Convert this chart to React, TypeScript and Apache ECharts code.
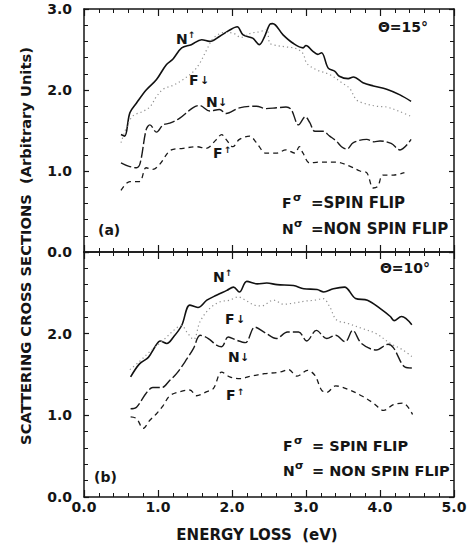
import React, { useEffect, useRef } from "react";
import * as echarts from "echarts";

// ---- data (energy loss eV, cross section arbitrary units) ----
const xTicks = [0, 1, 2, 3, 4, 5];

// panel (a) theta = 15 deg
const aNUp = [[0.50,1.45],[0.55,1.43],[0.62,1.72],[0.71,1.84],[0.84,2.00],[0.98,2.13],[1.11,2.31],[1.20,2.38],[1.32,2.52],[1.45,2.56],[1.59,2.62],[1.70,2.60],[1.83,2.66],[1.97,2.74],[2.07,2.78],[2.15,2.68],[2.28,2.64],[2.37,2.56],[2.44,2.66],[2.51,2.81],[2.55,2.82],[2.69,2.68],[2.82,2.58],[2.96,2.52],[3.00,2.55],[3.09,2.48],[3.16,2.44],[3.21,2.46],[3.30,2.27],[3.39,2.23],[3.45,2.17],[3.57,2.14],[3.64,2.16],[3.77,2.09],[3.91,2.05],[4.09,2.01],[4.27,1.94],[4.42,1.86]];
const aFDown = [[0.50,1.35],[0.58,1.55],[0.66,1.68],[0.78,1.73],[0.89,1.79],[0.98,1.92],[1.07,2.01],[1.21,2.06],[1.34,2.13],[1.48,2.23],[1.57,2.34],[1.66,2.50],[1.75,2.64],[1.90,2.71],[2.02,2.70],[2.12,2.65],[2.25,2.70],[2.38,2.72],[2.47,2.75],[2.51,2.58],[2.60,2.55],[2.75,2.53],[2.87,2.51],[2.96,2.45],[3.01,2.33],[3.14,2.25],[3.32,2.19],[3.50,2.08],[3.59,2.02],[3.68,1.88],[3.77,1.84],[3.95,1.80],[4.09,1.79],[4.25,1.74],[4.43,1.67]];
const aNDown = [[0.50,1.10],[0.60,1.06],[0.71,1.04],[0.76,1.10],[0.84,1.51],[0.89,1.57],[0.98,1.48],[1.07,1.57],[1.16,1.59],[1.29,1.65],[1.47,1.78],[1.56,1.81],[1.70,1.74],[1.83,1.76],[1.92,1.71],[2.10,1.78],[2.33,1.80],[2.46,1.77],[2.60,1.78],[2.73,1.79],[2.80,1.76],[2.90,1.57],[2.99,1.67],[3.05,1.60],[3.12,1.49],[3.23,1.49],[3.32,1.43],[3.41,1.37],[3.48,1.30],[3.55,1.27],[3.64,1.35],[3.82,1.39],[3.92,1.36],[4.00,1.37],[4.15,1.34],[4.27,1.26],[4.42,1.39]];
const aFUp = [[0.50,0.76],[0.62,0.87],[0.75,0.87],[0.84,1.04],[0.93,1.02],[1.02,1.08],[1.18,1.26],[1.34,1.28],[1.52,1.30],[1.65,1.28],[1.79,1.39],[1.86,1.45],[1.92,1.39],[2.01,1.30],[2.10,1.39],[2.24,1.43],[2.33,1.35],[2.46,1.22],[2.60,1.22],[2.73,1.26],[2.85,1.22],[2.91,1.30],[2.96,1.22],[3.05,1.10],[3.18,1.11],[3.41,1.11],[3.59,1.06],[3.73,1.00],[3.82,0.98],[3.91,0.79],[3.97,0.81],[4.04,0.95],[4.18,0.95],[4.33,0.98]];

// panel (b) theta = 10 deg
const bNUp = [[0.63,1.47],[0.75,1.63],[0.87,1.71],[0.96,1.84],[1.03,1.91],[1.12,1.88],[1.21,1.96],[1.32,2.10],[1.43,2.35],[1.54,2.32],[1.66,2.41],[1.79,2.47],[1.93,2.53],[2.02,2.57],[2.10,2.51],[2.20,2.64],[2.34,2.61],[2.47,2.62],[2.61,2.60],[2.83,2.59],[2.97,2.55],[3.15,2.54],[3.24,2.51],[3.37,2.55],[3.52,2.57],[3.67,2.43],[3.83,2.41],[4.00,2.31],[4.14,2.21],[4.19,2.16],[4.29,2.21],[4.43,2.11]];
const bFDown = [[0.62,1.56],[0.75,1.66],[0.89,1.78],[1.07,1.92],[1.25,2.07],[1.32,2.10],[1.39,2.02],[1.48,1.93],[1.57,2.15],[1.70,2.31],[1.84,2.39],[1.97,2.41],[2.08,2.45],[2.20,2.40],[2.30,2.35],[2.40,2.34],[2.56,2.41],[2.70,2.36],[2.87,2.38],[3.00,2.40],[3.12,2.41],[3.23,2.43],[3.32,2.33],[3.41,2.17],[3.55,2.13],[3.77,2.06],[3.95,2.00],[4.14,1.88],[4.31,1.80],[4.43,1.72]];
const bNDown = [[0.63,1.08],[0.71,1.10],[0.84,1.27],[0.93,1.34],[1.05,1.34],[1.16,1.43],[1.25,1.51],[1.39,1.69],[1.48,1.82],[1.57,1.98],[1.68,1.94],[1.79,1.86],[1.86,1.84],[1.95,1.96],[2.06,1.92],[2.18,1.89],[2.31,2.08],[2.45,2.01],[2.60,1.94],[2.75,2.02],[2.90,2.02],[3.01,1.91],[3.14,2.04],[3.28,1.94],[3.40,1.98],[3.53,1.90],[3.63,2.04],[3.75,1.88],[3.95,1.80],[4.11,1.87],[4.18,1.83],[4.34,1.59],[4.43,1.58]];
const bFUp = [[0.63,0.98],[0.71,0.96],[0.80,0.84],[0.89,0.94],[0.98,1.02],[1.07,1.12],[1.16,1.24],[1.30,1.29],[1.43,1.31],[1.52,1.24],[1.66,1.29],[1.75,1.33],[1.86,1.53],[1.97,1.47],[2.11,1.45],[2.26,1.48],[2.44,1.51],[2.65,1.53],[2.76,1.56],[2.88,1.48],[3.02,1.55],[3.12,1.49],[3.21,1.31],[3.28,1.28],[3.40,1.36],[3.59,1.31],[3.77,1.23],[3.91,1.15],[4.05,1.06],[4.18,1.13],[4.31,1.15],[4.44,1.01]];

const FONT = '"DejaVu Sans", "Liberation Sans", sans-serif';
const INK = "#151515";

function txt(x: number, y: number, text: string, size = 14, align = "left", extra: any = {}) {
  return {
    type: "text",
    x,
    y,
    silent: true,
    ...extra,
    style: {
      text,
      fontFamily: FONT,
      fontWeight: "bold",
      fontSize: size,
      fill: INK,
      align,
      verticalAlign: "middle",
      textAlign: align,
      textVerticalAlign: "middle",
    },
  };
}

function supLabel(x: number, y: number, main: string, sup: string, supDx: number, supDy: number, supSize = 10) {
  return {
    type: "group",
    children: [txt(x, y, main, 14), txt(x + supDx, y + supDy, sup, supSize)],
  };
}

function legendRows(x: number, y1: number, y2: number, eqSpace: string, size: number) {
  return [
    supLabel(x, y1, "F", "σ", 11, -6, 11),
    txt(x + 29, y1, "=" + eqSpace + "SPIN FLIP", size),
    supLabel(x, y2, "N", "σ", 12, -6, 11),
    txt(x + 29, y2, "=" + eqSpace + "NON SPIN FLIP", size),
  ];
}

const LEFT = 84;
const WIDTH = 370;
const TOP_A = 9;
const H_A = 243;
const TOP_B = 252;
const H_B = 245;

function xAxisCfg(grid: number, position: string, showLabel: boolean) {
  return {
    type: "value",
    gridIndex: grid,
    position,
    min: xTicks[0],
    max: xTicks[xTicks.length - 1],
    interval: 1,
    axisLine: { show: true, onZero: false, lineStyle: { color: INK, width: 1.5 } },
    axisTick: { show: true, inside: true, length: 7, lineStyle: { color: INK, width: 1.2 } },
    minorTick: { show: true, splitNumber: 5, length: 4, lineStyle: { color: INK, width: 1 } },
    splitLine: { show: false },
    minorSplitLine: { show: false },
    axisLabel: {
      show: showLabel,
      margin: 3,
      color: INK,
      fontFamily: FONT,
      fontWeight: "bold",
      fontSize: 14,
      formatter: (v: number) => v.toFixed(1),
    },
  };
}

function yAxisCfg(grid: number, position: string, showLabel: boolean, hideMax: boolean) {
  return {
    type: "value",
    gridIndex: grid,
    position,
    min: 0,
    max: 3,
    interval: 1,
    axisLine: { show: true, onZero: false, lineStyle: { color: INK, width: 1.5 } },
    axisTick: { show: true, inside: true, length: 5, lineStyle: { color: INK, width: 1.2 } },
    minorTick: { show: true, splitNumber: 5, length: 4, lineStyle: { color: INK, width: 1 } },
    splitLine: { show: false },
    minorSplitLine: { show: false },
    axisLabel: {
      show: showLabel,
      margin: 12,
      color: INK,
      fontFamily: FONT,
      fontWeight: "bold",
      fontSize: 14,
      formatter: (v: number) => (hideMax && v >= 3 ? "" : v.toFixed(1)),
    },
  };
}

function line(data: number[][], axis: number, style: any) {
  return {
    type: "line",
    xAxisIndex: axis * 2,
    yAxisIndex: axis * 2,
    data,
    showSymbol: false,
    symbol: "none",
    smooth: 0.35,
    silent: true,
    lineStyle: style,
  };
}

const sNUp = { color: "#111", width: 1.6, type: "solid" };
const sFDown = { color: "#8f8f8f", width: 1.2, type: [1.2, 3] };
const sNDown = { color: "#1a1a1a", width: 1.4, type: [11, 3] };
const sFUp = { color: "#1a1a1a", width: 1.3, type: [5, 4] };

export default function App() {
  const ref = useRef<HTMLDivElement>(null);
  useEffect(() => {
    if (!ref.current) return;
    const chart = echarts.init(ref.current, undefined, { renderer: "svg" });
    chart.setOption({
      animation: false,
      backgroundColor: "#ffffff",
      grid: [
        { left: LEFT, top: TOP_A, width: WIDTH, height: H_A, show: false },
        { left: LEFT, top: TOP_B, width: WIDTH, height: H_B, show: false },
      ],
      xAxis: [
        xAxisCfg(0, "bottom", false),
        xAxisCfg(0, "top", false),
        {
          ...xAxisCfg(1, "bottom", true),
          name: "ENERGY LOSS  (eV)",
          nameLocation: "middle",
          nameGap: 30,
          nameTextStyle: {
            color: INK,
            fontFamily: FONT,
            fontWeight: "bold",
            fontSize: 15,
            padding: [0, 24, 0, 0],
          },
        },
        xAxisCfg(1, "top", false),
      ],
      yAxis: [
        yAxisCfg(0, "left", true, false),
        yAxisCfg(0, "right", false, false),
        yAxisCfg(1, "left", true, true),
        yAxisCfg(1, "right", false, true),
      ],
      series: [
        line(aNUp, 0, sNUp),
        line(aFDown, 0, sFDown),
        line(aNDown, 0, sNDown),
        line(aFUp, 0, sFUp),
        line(bNUp, 1, sNUp),
        line(bFDown, 1, sFDown),
        line(bNDown, 1, sNDown),
        line(bFUp, 1, sFUp),
      ],
      graphic: [
        txt(25, 246, "SCATTERING CROSS SECTIONS  (Arbitrary Units)", 14.7, "center", { rotation: Math.PI / 2 }),
        // panel a
        txt(428, 27, "Θ=15°", 14, "right"),
        txt(98, 230, "(a)", 14),
        supLabel(176, 39, "N", "↑", 12, -4, 9),
        supLabel(189, 80, "F", "↓", 11, 0, 11),
        supLabel(206, 102, "N", "↓", 12, 0, 11),
        supLabel(213, 153, "F", "↑", 11, -3, 9),
        ...legendRows(282, 203, 229, "", 15),
        // panel b
        txt(430, 268, "Θ=10°", 14, "right"),
        txt(94, 477, "(b)", 14),
        supLabel(213, 277, "N", "↑", 12, -4, 9),
        supLabel(225, 319, "F", "↓", 11, 0, 11),
        supLabel(228, 357, "N", "↓", 12, 0, 11),
        supLabel(226, 395, "F", "↑", 11, -3, 9),
        ...legendRows(283, 446, 471, " ", 14.5),
      ],
    });
    return () => chart.dispose();
  }, []);
  return (
    <div
      ref={ref}
      style={{ position: "fixed", left: 0, top: 0, width: 474, height: 545, background: "#fff" }}
    />
  );
}
